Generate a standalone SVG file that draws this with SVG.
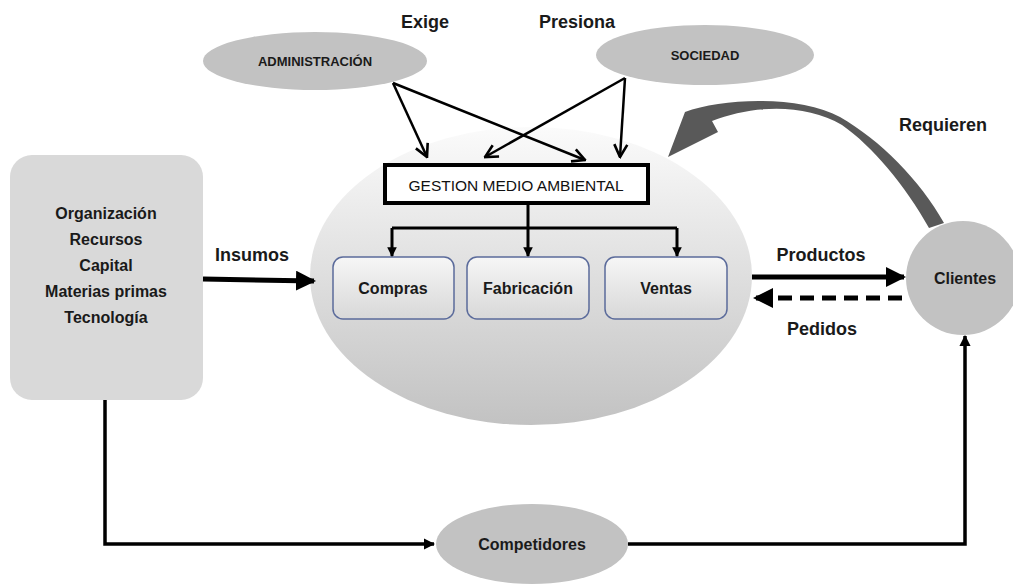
<svg xmlns="http://www.w3.org/2000/svg" width="1013" height="584" viewBox="0 0 1013 584">
<style>
.lbl{font-family:"Liberation Sans",Arial,sans-serif;font-weight:bold;fill:#1a1a1a;}
.ln{fill:none;stroke:#000;stroke-width:3;}
.thin{fill:none;stroke:#000;stroke-width:2.5;}
.gray{fill:#c2c2c2;}
.box{stroke:#5b6b9b;stroke-width:1.5;fill:url(#boxg);}
</style>
<defs>
<linearGradient id="bigg" x1="0" y1="0" x2="0" y2="1">
<stop offset="0" stop-color="#fbfbfb"/>
<stop offset="1" stop-color="#c2c2c2"/>
</linearGradient>
<linearGradient id="boxg" x1="0" y1="0" x2="0" y2="1">
<stop offset="0" stop-color="#f6f6f6"/>
<stop offset="1" stop-color="#d8d8d8"/>
</linearGradient>
<marker id="ah" viewBox="0 0 10 10" refX="9" refY="5" markerWidth="4" markerHeight="4" orient="auto" markerUnits="strokeWidth">
<path d="M0,0 L10,5 L0,10 z" fill="#000"/>
</marker>
<marker id="ah2" viewBox="0 0 10 10" refX="9" refY="5" markerWidth="3.2" markerHeight="3.2" orient="auto" markerUnits="strokeWidth">
<path d="M0,0 L10,5 L0,10 z" fill="#000"/>
</marker>
<marker id="chev" viewBox="0 0 16 16" refX="14.5" refY="8" markerWidth="16" markerHeight="16" orient="auto" markerUnits="userSpaceOnUse">
<path d="M2,1.5 L14.5,8 L2,14.5" fill="none" stroke="#000" stroke-width="2.6" stroke-linejoin="miter"/>
</marker>
</defs>
<rect width="1013" height="584" fill="#fff"/>

<g id="entorno">
<ellipse cx="531" cy="276" rx="221" ry="149" fill="url(#bigg)"/>
</g>

<g id="administracion">
<ellipse cx="315" cy="61" rx="112" ry="29" class="gray"/>
<text x="315" y="66" class="lbl" font-size="13" text-anchor="middle">ADMINISTRACIÓN</text>
</g>
<g id="sociedad">
<ellipse cx="705" cy="55" rx="109" ry="30" class="gray"/>
<text x="705" y="60" class="lbl" font-size="13" text-anchor="middle">SOCIEDAD</text>
</g>

<g id="org">
<rect x="10" y="155" width="193" height="245" rx="22" fill="#d9d9d9"/>
<g class="lbl" font-size="16" text-anchor="middle">
<text x="106" y="219">Organización</text>
<text x="106" y="245">Recursos</text>
<text x="106" y="271">Capital</text>
<text x="106" y="297">Materias primas</text>
<text x="106" y="323">Tecnología</text>
</g>
</g>

<g id="gestion">
<rect x="385" y="165" width="263" height="38" fill="#fff" stroke="#000" stroke-width="4"/>
<text x="516" y="191" font-family="Liberation Sans,Arial,sans-serif" font-size="15.5" fill="#111" text-anchor="middle">GESTION MEDIO AMBIENTAL</text>
</g>

<g id="compras">
<rect x="333" y="257" width="121" height="62" rx="10" class="box"/>
<text x="393" y="294" class="lbl" font-size="16" text-anchor="middle">Compras</text>
</g>
<g id="fabricacion">
<rect x="467" y="257" width="122" height="62" rx="10" class="box"/>
<text x="528" y="294" class="lbl" font-size="16" text-anchor="middle">Fabricación</text>
</g>
<g id="ventas">
<rect x="605" y="257" width="122" height="62" rx="10" class="box"/>
<text x="666" y="294" class="lbl" font-size="16" text-anchor="middle">Ventas</text>
</g>

<g id="clientes">
<circle cx="963" cy="278" r="57" class="gray"/>
<text x="965" y="284" class="lbl" font-size="16" text-anchor="middle">Clientes</text>
</g>

<g id="competidores">
<ellipse cx="532" cy="544" rx="96" ry="40" class="gray"/>
<text x="532" y="550" class="lbl" font-size="16" text-anchor="middle">Competidores</text>
</g>

<g id="connectors">
<path class="thin" d="M393,83 L427,157" marker-end="url(#chev)"/>
<path class="thin" d="M393,83 L585,160" marker-end="url(#chev)"/>
<path class="thin" d="M625,78 L485,157" marker-end="url(#chev)"/>
<path class="thin" d="M625,78 L620,157" marker-end="url(#chev)"/>
<path class="ln" d="M528,203 L528,228"/>
<path class="ln" d="M392,228 L677,228"/>
<path class="ln" d="M392,228 L392,256" marker-end="url(#ah2)"/>
<path class="ln" d="M528,228 L528,256" marker-end="url(#ah2)"/>
<path class="ln" d="M677,228 L677,256" marker-end="url(#ah2)"/>
<path fill="none" stroke="#000" stroke-width="5" d="M203,279 L314,281" marker-end="url(#ah)"/>
<path fill="none" stroke="#000" stroke-width="5" d="M752,277 L904,277" marker-end="url(#ah)"/>
<path fill="none" stroke="#000" stroke-width="5" stroke-dasharray="14,8" d="M902,298 L755,298" marker-end="url(#ah)"/>
<path fill="none" stroke="#000" stroke-width="3.5" d="M105,400 L105,544 L434,544" marker-end="url(#ah2)"/>
<path fill="none" stroke="#000" stroke-width="3.5" d="M628,544 L965,544 L965,336" marker-end="url(#ah2)"/>
<path fill="#595959" d="M668,157 L685,112 C722,98 800,95 840,117 C880,140 920,180 944,223 L929,228 C905,185 872,146 842,125 C805,103 752,105 712,121 L718,132 Z"/>
</g>

<g id="labels" class="lbl" font-size="18">
<text x="425" y="28" text-anchor="middle">Exige</text>
<text x="577" y="28" text-anchor="middle">Presiona</text>
<text x="252" y="261" text-anchor="middle">Insumos</text>
<text x="821" y="261" text-anchor="middle">Productos</text>
<text x="822" y="335" text-anchor="middle">Pedidos</text>
<text x="943" y="131" text-anchor="middle">Requieren</text>
</g>
</svg>
